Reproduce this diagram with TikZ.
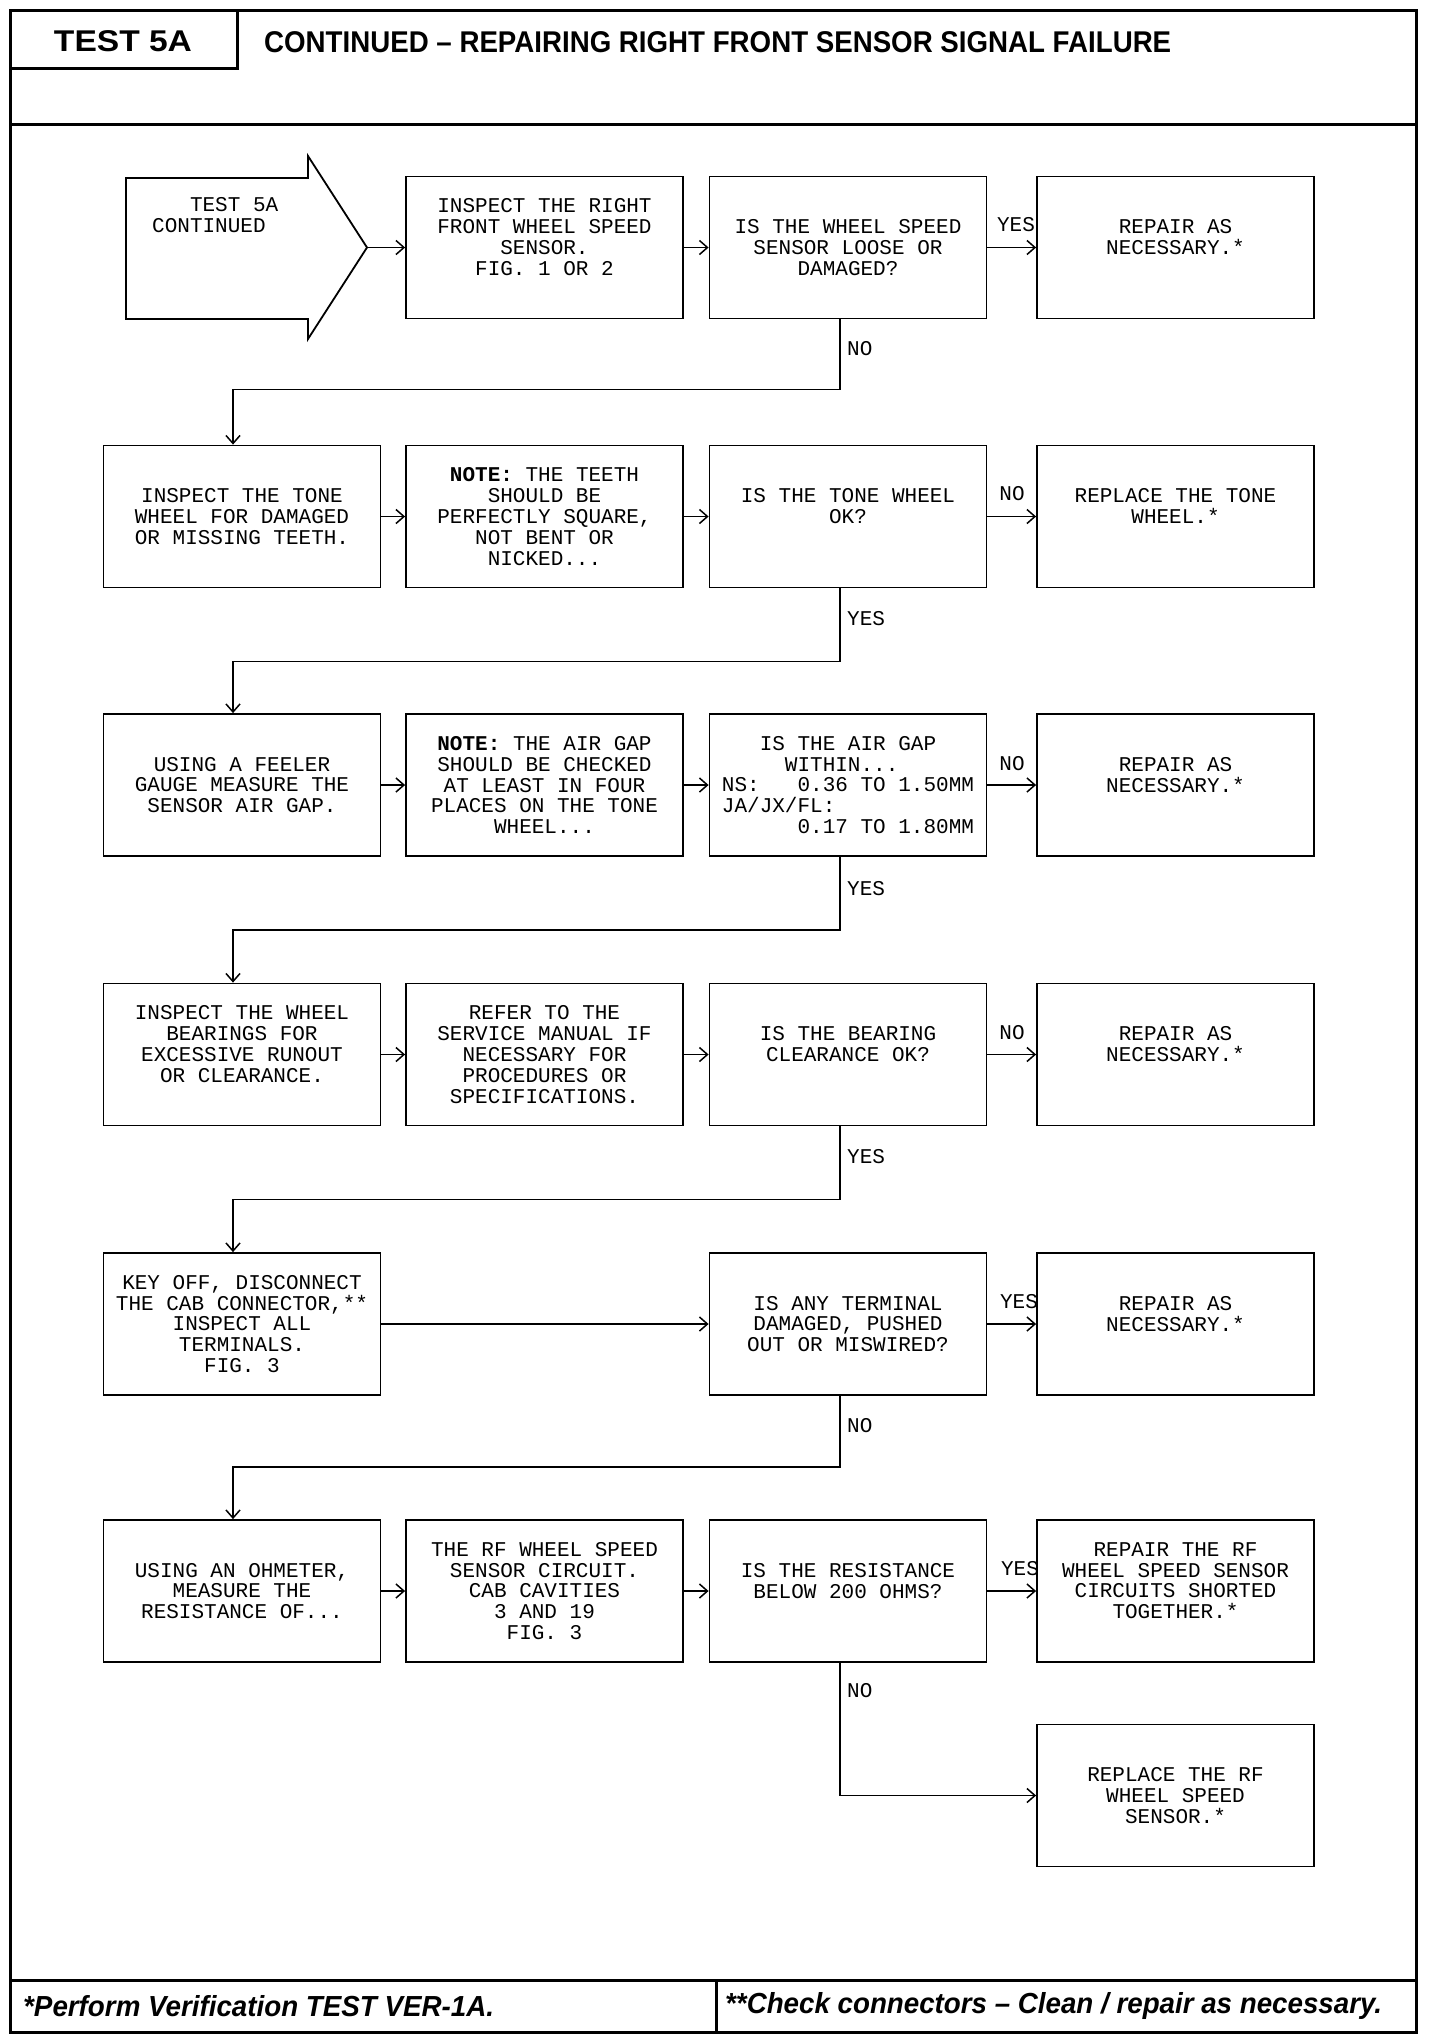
\documentclass[tikz,border=0pt]{standalone}
\usepackage{fontspec}
\usepackage{graphicx}
\usetikzlibrary{arrows.meta,calc}
\newfontfamily\boxfont{Liberation Mono}
\newfontfamily\hfont{Liberation Sans}
\newcommand\bxtxt{\boxfont\fontsize{21}{20.8}\selectfont}
\newcommand\hxw[2]{\resizebox{#1}{\height}{#2}}
\tikzset{
 box/.style={draw, line width=1.8pt, fill=white, minimum width=277pt, minimum height=142pt, inner sep=0pt, align=center, font=\bxtxt},
 arr/.style={line width=1.8pt, -{Straight Barb[length=8pt,width=14pt,line width=1.5pt]}},
 lbl/.style={font=\bxtxt, inner sep=0pt},
 frame/.style={line width=3pt},
 hdr/.style={inner sep=0pt, font=\hfont\bfseries\fontsize{30}{30}\selectfont},
 ftr/.style={inner sep=0pt, anchor=west, font=\hfont\bfseries\itshape\fontsize{29}{29}\selectfont},
}
\begin{document}
\begin{tikzpicture}[x=1pt,y=-1pt]
\useasboundingbox[fill=white] (0,0) rectangle (1440,2040);
% frame, header, footer
\draw[frame] (10,10) rectangle (1416,2032);
\draw[frame] (10,68) -- (237,68) -- (237,10);
\draw[frame] (10,124) -- (1416,124);
\draw[frame] (10,1980) -- (1416,1980);
\draw[frame] (716,1980) -- (716,2032);
\node[hdr] (hdrtest) at (123,41) {\hxw{138pt}{TEST 5A}};
\node[hdr,anchor=west] (hdrtitle) at (264,42) {\hxw{907pt}{CONTINUED – REPAIRING RIGHT FRONT SENSOR SIGNAL FAILURE}};
\node[ftr] (foot1) at (23,2006) {\hxw{471pt}{*Perform Verification TEST VER-1A.}};
\node[ftr] (foot2) at (725,2006) {\hxw{657pt}{**Check connectors – Clean / repair as necessary.}};

% row 1
\draw[line width=1.8pt] (126,178) -- (308,178) -- (308,156) -- (367,247.5) -- (308,339) -- (308,319) -- (126,319) -- cycle;
\coordinate (starttip) at (367,247.5);
\node[anchor=north west, inner sep=0pt, align=left, font=\bxtxt] (start) at (152,197) {~~~TEST 5A\\CONTINUED};
\node[box] (b1) at (544.5,247.5) {INSPECT THE RIGHT\\FRONT WHEEL SPEED\\SENSOR.\\FIG. 1 OR 2\\\mbox{}};
\node[box] (c1) at (848,247.5) {IS THE WHEEL SPEED\\SENSOR LOOSE OR\\DAMAGED?};
\node[box] (d1) at (1175.5,247.5) {REPAIR AS\\NECESSARY.*\\\mbox{}};
% row 2
\node[box] (a2) at (242,516.5) {INSPECT THE TONE\\WHEEL FOR DAMAGED\\OR MISSING TEETH.};
\node[box] (b2) at (544.5,516.5) {\textbf{NOTE:} THE TEETH\\SHOULD BE\\PERFECTLY SQUARE,\\NOT BENT OR\\NICKED...};
\node[box] (c2) at (848,516.5) {IS THE TONE WHEEL\\OK?\\\mbox{}};
\node[box] (d2) at (1175.5,516.5) {REPLACE THE TONE\\WHEEL.*\\\mbox{}};
% row 3
\node[box] (a3) at (242,785) {USING A FEELER\\GAUGE MEASURE THE\\SENSOR AIR GAP.};
\node[box] (b3) at (544.5,785) {\textbf{NOTE:} THE AIR GAP\\SHOULD BE CHECKED\\AT LEAST IN FOUR\\PLACES ON THE TONE\\WHEEL...};
\node[box, align=left] (c3) at (848,785) {~~~IS THE AIR GAP\\~~~~~WITHIN...\\NS:~~~0.36 TO 1.50MM\\JA/JX/FL:\\~~~~~~0.17 TO 1.80MM};
\node[box] (d3) at (1175.5,785) {REPAIR AS\\NECESSARY.*\\\mbox{}};
% row 4
\node[box] (a4) at (242,1054.5) {INSPECT THE WHEEL\\BEARINGS FOR\\EXCESSIVE RUNOUT\\OR CLEARANCE.\\\mbox{}};
\node[box] (b4) at (544.5,1054.5) {REFER TO THE\\SERVICE MANUAL IF\\NECESSARY FOR\\PROCEDURES OR\\SPECIFICATIONS.};
\node[box] (c4) at (848,1054.5) {IS THE BEARING\\CLEARANCE OK?\\\mbox{}};
\node[box] (d4) at (1175.5,1054.5) {REPAIR AS\\NECESSARY.*\\\mbox{}};
% row 5
\node[box] (a5) at (242,1324) {KEY OFF, DISCONNECT\\THE CAB CONNECTOR,**\\INSPECT ALL\\TERMINALS.\\FIG. 3};
\node[box] (c5) at (848,1324) {IS ANY TERMINAL\\DAMAGED, PUSHED\\OUT OR MISWIRED?};
\node[box] (d5) at (1175.5,1324) {REPAIR AS\\NECESSARY.*\\\mbox{}};
% row 6
\node[box] (a6) at (242,1591) {USING AN OHMETER,\\MEASURE THE\\RESISTANCE OF...};
\node[box] (b6) at (544.5,1591) {THE RF WHEEL SPEED\\SENSOR CIRCUIT.\\CAB CAVITIES\\3 AND 19\\FIG. 3};
\node[box] (c6) at (848,1591) {IS THE RESISTANCE\\BELOW 200 OHMS?\\\mbox{}};
\node[box] (d6) at (1175.5,1591) {REPAIR THE RF\\WHEEL SPEED SENSOR\\CIRCUITS SHORTED\\TOGETHER.*\\\mbox{}};
% row 7
\node[box] (d7) at (1175.5,1795.5) {REPLACE THE RF\\WHEEL SPEED\\SENSOR.*};

% connectors
\draw[arr] (starttip) -- (b1);
\draw[arr] (b1) -- (c1);
\draw[arr] (c1) -- (d1);
\draw[arr] ([xshift=-8pt]c1.south) -- ++(0,70) -| ([xshift=-9pt]a2.north);
\draw[arr] (a2) -- (b2);
\draw[arr] (b2) -- (c2);
\draw[arr] (c2) -- (d2);
\draw[arr] ([xshift=-8pt]c2.south) -- ++(0,73) -| ([xshift=-9pt]a3.north);
\draw[arr] (a3) -- (b3);
\draw[arr] (b3) -- (c3);
\draw[arr] (c3) -- (d3);
\draw[arr] ([xshift=-8pt]c3.south) -- ++(0,73) -| ([xshift=-9pt]a4.north);
\draw[arr] (a4) -- (b4);
\draw[arr] (b4) -- (c4);
\draw[arr] (c4) -- (d4);
\draw[arr] ([xshift=-8pt]c4.south) -- ++(0,73) -| ([xshift=-9pt]a5.north);
\draw[arr] (a5) -- (c5);
\draw[arr] (c5) -- (d5);
\draw[arr] ([xshift=-8pt]c5.south) -- ++(0,71) -| ([xshift=-9pt]a6.north);
\draw[arr] (a6) -- (b6);
\draw[arr] (b6) -- (c6);
\draw[arr] (c6) -- (d6);
\draw[arr] ([xshift=-8pt]c6.south) |- (d7.west);

% labels
\node[lbl] (y1) at (1016,225) {YES};
\node[lbl,anchor=west] (n1) at (847,349) {NO};
\node[lbl] (n2) at (1012,494) {NO};
\node[lbl,anchor=west] (y2) at (847,619) {YES};
\node[lbl] (n3) at (1012,764) {NO};
\node[lbl,anchor=west] (y3) at (847,889) {YES};
\node[lbl] (n4) at (1012,1033) {NO};
\node[lbl,anchor=west] (y4) at (847,1157) {YES};
\node[lbl] (y5) at (1019,1302) {YES};
\node[lbl,anchor=west] (n5) at (847,1426) {NO};
\node[lbl] (y6) at (1020,1569) {YES};
\node[lbl,anchor=west] (n6) at (847,1691) {NO};
\end{tikzpicture}
\end{document}
